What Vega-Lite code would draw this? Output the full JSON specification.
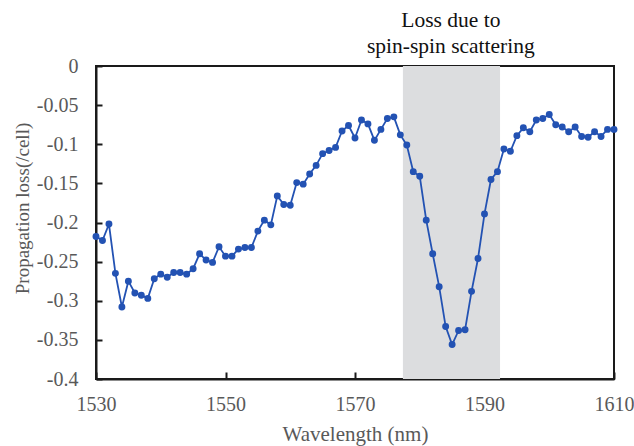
{
  "$schema": "https://vega.github.io/schema/vega-lite/v6.json",
  "autosize": "none",
  "width": 518,
  "height": 313,
  "padding": {"left": 96, "top": 66, "right": 20, "bottom": 67},
  "background": "white",
  "config": {
    "view": {"stroke": "#1a1a1a", "strokeWidth": 2},
    "font": "Liberation Serif",
    "text": {"lineBreak": "\n"}
  },
  "datasets": {
    "loss": [
      {"wl": 1530, "loss": -0.218}, {"wl": 1531, "loss": -0.223}, {"wl": 1532, "loss": -0.202},
      {"wl": 1533, "loss": -0.265}, {"wl": 1534, "loss": -0.308}, {"wl": 1535, "loss": -0.275},
      {"wl": 1536, "loss": -0.290}, {"wl": 1537, "loss": -0.293}, {"wl": 1538, "loss": -0.297},
      {"wl": 1539, "loss": -0.272}, {"wl": 1540, "loss": -0.266}, {"wl": 1541, "loss": -0.270},
      {"wl": 1542, "loss": -0.264}, {"wl": 1543, "loss": -0.264}, {"wl": 1544, "loss": -0.266},
      {"wl": 1545, "loss": -0.259}, {"wl": 1546, "loss": -0.240}, {"wl": 1547, "loss": -0.248},
      {"wl": 1548, "loss": -0.251}, {"wl": 1549, "loss": -0.231}, {"wl": 1550, "loss": -0.243},
      {"wl": 1551, "loss": -0.243}, {"wl": 1552, "loss": -0.234}, {"wl": 1553, "loss": -0.232},
      {"wl": 1554, "loss": -0.232}, {"wl": 1555, "loss": -0.211}, {"wl": 1556, "loss": -0.197},
      {"wl": 1557, "loss": -0.203}, {"wl": 1558, "loss": -0.166}, {"wl": 1559, "loss": -0.177},
      {"wl": 1560, "loss": -0.178}, {"wl": 1561, "loss": -0.149}, {"wl": 1562, "loss": -0.151},
      {"wl": 1563, "loss": -0.138}, {"wl": 1564, "loss": -0.127}, {"wl": 1565, "loss": -0.112},
      {"wl": 1566, "loss": -0.108}, {"wl": 1567, "loss": -0.104}, {"wl": 1568, "loss": -0.083},
      {"wl": 1569, "loss": -0.076}, {"wl": 1570, "loss": -0.092}, {"wl": 1571, "loss": -0.069},
      {"wl": 1572, "loss": -0.074}, {"wl": 1573, "loss": -0.095}, {"wl": 1574, "loss": -0.081},
      {"wl": 1575, "loss": -0.067}, {"wl": 1576, "loss": -0.065}, {"wl": 1577, "loss": -0.088},
      {"wl": 1578, "loss": -0.101}, {"wl": 1579, "loss": -0.135}, {"wl": 1580, "loss": -0.141},
      {"wl": 1581, "loss": -0.197}, {"wl": 1582, "loss": -0.240}, {"wl": 1583, "loss": -0.282},
      {"wl": 1584, "loss": -0.333}, {"wl": 1585, "loss": -0.356}, {"wl": 1586, "loss": -0.338},
      {"wl": 1587, "loss": -0.337}, {"wl": 1588, "loss": -0.288}, {"wl": 1589, "loss": -0.246},
      {"wl": 1590, "loss": -0.189}, {"wl": 1591, "loss": -0.145}, {"wl": 1592, "loss": -0.135},
      {"wl": 1593, "loss": -0.106}, {"wl": 1594, "loss": -0.109}, {"wl": 1595, "loss": -0.089},
      {"wl": 1596, "loss": -0.079}, {"wl": 1597, "loss": -0.084}, {"wl": 1598, "loss": -0.069},
      {"wl": 1599, "loss": -0.067}, {"wl": 1600, "loss": -0.062}, {"wl": 1601, "loss": -0.075},
      {"wl": 1602, "loss": -0.078}, {"wl": 1603, "loss": -0.084}, {"wl": 1604, "loss": -0.078},
      {"wl": 1605, "loss": -0.090}, {"wl": 1606, "loss": -0.091}, {"wl": 1607, "loss": -0.084},
      {"wl": 1608, "loss": -0.090}, {"wl": 1609, "loss": -0.081}, {"wl": 1610, "loss": -0.081}
    ],
    "band": [{"wl": 1577.4, "wl_end": 1592.4, "loss": 0, "loss_end": -0.4}],
    "note": [{"wl": 1584.8, "loss": 0, "label": "Loss due to\nspin-spin scattering"}]
  },
  "encoding": {
    "x": {
      "field": "wl", "type": "quantitative",
      "scale": {"domain": [1530, 1610], "nice": false, "zero": false},
      "axis": {
        "title": "Wavelength (nm)", "values": [1530, 1550, 1570, 1590, 1610],
        "format": "d", "labelOverlap": false,
        "grid": false, "domainColor": "#1a1a1a", "domainWidth": 2,
        "tickColor": "#1a1a1a", "tickWidth": 2, "tickSize": -7,
        "labelFont": "Liberation Serif", "labelFontSize": 20, "labelColor": "#595959",
        "labelPadding": 22, "labelFlush": false,
        "titleFont": "Liberation Serif", "titleFontSize": 21, "titleColor": "#595959",
        "titleFontWeight": "normal", "titleY": 61, "titleBaseline": "alphabetic"
      }
    },
    "y": {
      "field": "loss", "type": "quantitative",
      "scale": {"domain": [-0.4, 0], "nice": false},
      "axis": {
        "title": "Propagation loss(/cell)",
        "values": [0, -0.05, -0.1, -0.15, -0.2, -0.25, -0.3, -0.35, -0.4],
        "format": ".2~f",
        "labelExpr": "replace(datum.label, '−', '-')",
        "labelOverlap": false,
        "grid": false, "domainColor": "#1a1a1a", "domainWidth": 2,
        "tickColor": "#1a1a1a", "tickWidth": 2, "tickSize": -6,
        "labelFont": "Liberation Serif", "labelFontSize": 20, "labelColor": "#595959",
        "labelPadding": 24, "labelFlush": false,
        "titleFont": "Liberation Serif", "titleFontSize": 19, "titleColor": "#595959",
        "titleFontWeight": "normal", "titleX": -74, "titleY": 142,
        "titleAlign": "center", "titleBaseline": "middle", "titleAngle": -90
      }
    }
  },
  "layer": [
    {
      "data": {"name": "band"},
      "mark": {"type": "rect", "color": "#dcdddf"},
      "encoding": {
        "x2": {"field": "wl_end"},
        "y2": {"field": "loss_end"}
      }
    },
    {
      "data": {"name": "loss"},
      "mark": {"type": "line", "color": "#2352b3", "strokeWidth": 1.8, "point": {"filled": true, "size": 48, "color": "#2352b3", "opacity": 1}}
    },
    {
      "data": {"name": "note"},
      "mark": {"type": "text", "font": "Liberation Serif", "fontSize": 21.5, "color": "#111111", "baseline": "alphabetic", "align": "center", "dy": -39, "lineHeight": 26},
      "encoding": {
        "text": {"field": "label"}
      }
    }
  ]
}
